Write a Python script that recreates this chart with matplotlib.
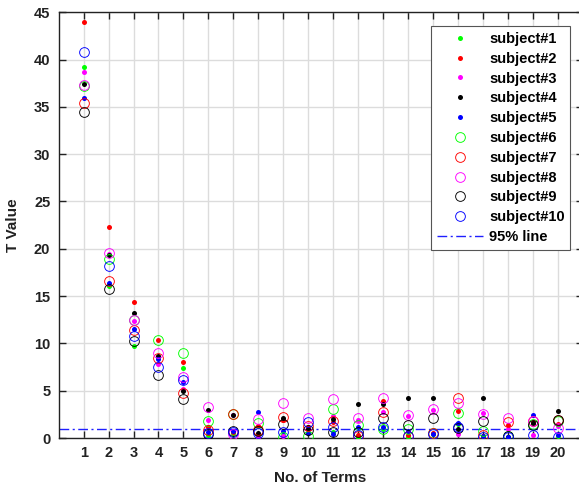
import matplotlib
matplotlib.use("Agg")
import matplotlib.pyplot as plt
import numpy as np

plt.rcParams['font.family'] = ['Liberation Sans', 'DejaVu Sans']

terms = list(range(1, 21))
labels = [f"subject#{i}" for i in range(1, 11)]

s1 = [39.2, 16.1, 9.7, 8.6, 7.4, 0.3, 0.5, 0.3, 0.3, 0.5, 0.6, 0.07, 1.0, 0.07, 0.4, 1.5, 0.2, 0.1, 1.5, 0.2]
s2 = [44.0, 22.3, 14.4, 10.35, 8.0, 1.2, 0.6, 1.27, 1.9, 1.2, 1.7, 0.3, 3.95, 0.3, 0.5, 2.85, 0.2, 1.37, 1.7, 1.45]
s3 = [38.7, 19.4, 12.4, 7.8, 5.15, 1.9, 2.45, 0.15, 0.2, 1.0, 2.33, 1.9, 2.7, 2.3, 3.0, 0.45, 2.6, 1.0, 0.27, 1.3]
s4 = [37.45, 19.3, 13.2, 8.7, 4.97, 3.0, 2.4, 0.56, 2.08, 0.92, 1.98, 3.6, 3.6, 4.2, 4.2, 0.95, 4.26, 0.1, 1.55, 2.89]
s5 = [35.9, 16.4, 11.5, 8.4, 5.95, 0.6, 0.7, 2.7, 0.77, 0.5, 0.42, 1.13, 1.2, 0.77, 0.42, 1.6, 0.25, 0.15, 2.43, 0.28]
s6 = [37.2, 18.95, 12.5, 10.4, 9.0, 1.8, 2.5, 1.55, 0.15, 0.2, 3.07, 1.37, 0.92, 1.0, 0.56, 2.6, 0.77, 0.2, 1.5, 1.8]
s7 = [35.4, 16.6, 11.4, 8.5, 4.8, 0.85, 2.5, 0.85, 2.2, 1.3, 1.8, 0.2, 2.78, 0.2, 0.5, 4.2, 0.3, 1.72, 1.75, 1.85]
s8 = [37.3, 19.6, 12.5, 8.95, 6.5, 3.25, 0.4, 1.97, 3.67, 2.08, 4.12, 2.08, 4.26, 2.4, 3.1, 3.67, 2.54, 2.08, 1.83, 1.03]
s9 = [34.5, 15.8, 10.3, 6.65, 4.1, 0.4, 0.7, 0.7, 1.48, 0.8, 0.67, 0.67, 2.08, 1.37, 2.1, 1.1, 1.8, 0.2, 1.4, 1.9]
s10 = [40.8, 18.2, 10.8, 7.55, 6.1, 0.5, 0.6, 0.5, 0.6, 1.72, 1.13, 0.3, 1.13, 0.2, 0.4, 1.2, 0.1, 0.1, 0.28, 0.15]
line95 = 1.0

series = [s1, s2, s3, s4, s5, s6, s7, s8, s9, s10]
colors = ['#00ff00', '#ff0000', '#ff00ff', '#000000', '#0000ff',
          '#00ff00', '#ff0000', '#ff00ff', '#000000', '#0000ff']

fig = plt.figure(figsize=(5.79, 4.84), dpi=100)
ax = fig.add_axes([58.7/579, 46/484, (582.5-58.7)/579, (438-12.3)/484])

for i, (vals, c) in enumerate(zip(series, colors)):
    if i < 5:
        ax.plot(terms, vals, linestyle='none', marker='o', ms=3.6,
                markerfacecolor=c, markeredgecolor=c, markeredgewidth=0,
                label=labels[i], zorder=3)
    else:
        ax.plot(terms, vals, linestyle='none', marker='o', ms=7.0,
                markerfacecolor='none', markeredgecolor=c, markeredgewidth=0.65,
                label=labels[i], zorder=3)

ax.axhline(line95, color='#1f1fff', lw=1.0, linestyle=(0, (7, 2.5, 1.5, 2.5)),
           label='95% line', zorder=2)

ax.set_xlim(0, 21)
ax.set_ylim(0, 45)
ax.set_xticks(terms)
ax.set_yticks(np.arange(0, 46, 5))
ax.grid(True, color='#dcdcdc', lw=1.0)
ax.set_axisbelow(True)
ax.tick_params(direction='in', length=5, width=1, top=True, right=True,
               labelsize=10.5, pad=6, colors='#222222')
for lab in ax.get_xticklabels() + ax.get_yticklabels():
    lab.set_fontweight('bold')
for sp in ax.spines.values():
    sp.set_color('#222222')
    sp.set_linewidth(1.0)

fig.text(320/579, 1 - 478/484, 'No. of Terms', ha='center', va='center',
         fontsize=11, fontweight='bold', color='#222222')
fig.text(13/579, 1 - 225/484, 'T Value', ha='center', va='center',
         rotation=90, fontsize=11, fontweight='bold', color='#222222')

leg = ax.legend(loc='upper left', bbox_to_anchor=(430.7/579, 1 - 26/484),
                bbox_transform=fig.transFigure, fancybox=False, framealpha=1,
                edgecolor='#555555', prop={'weight': 'bold', 'size': 10.5},
                handlelength=3.2, handletextpad=0.4, labelspacing=0.4,
                borderpad=0.4, borderaxespad=0)
leg.get_frame().set_linewidth(0.8)

fig.savefig('out.png', dpi=100)
